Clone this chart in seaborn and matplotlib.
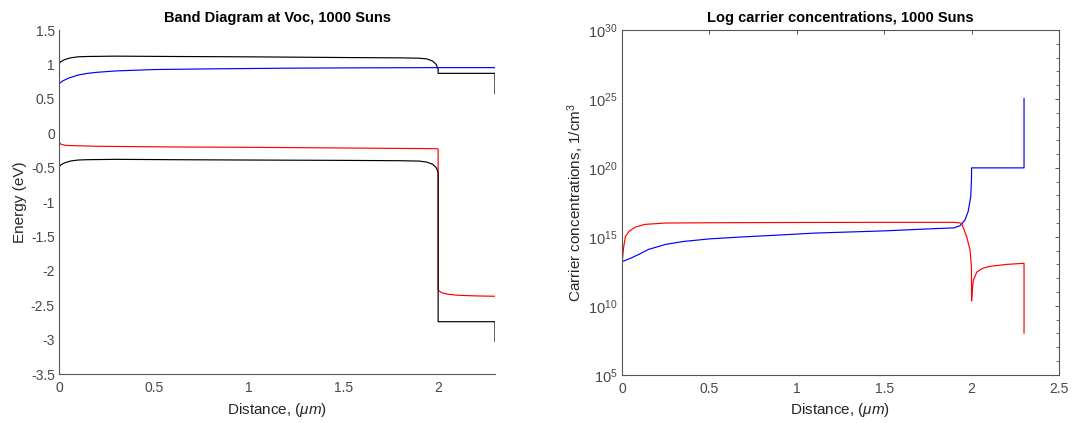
import numpy as np
import pandas as pd
import matplotlib
matplotlib.use("Agg")
import matplotlib.pyplot as plt
import matplotlib.ticker as mticker
import seaborn as sns

# ---------------- Data ----------------
# Left panel: band diagram (energies in eV vs distance in um)
ec_x = [0, 0.01, 0.03, 0.06, 0.1, 0.15, 0.3, 0.6, 1.0, 1.5, 1.8, 1.9, 1.94, 1.97, 1.99, 2.0, 2.0, 2.3, 2.3]
ec_y = [1.01, 1.04, 1.07, 1.095, 1.11, 1.115, 1.12, 1.115, 1.11, 1.10, 1.095, 1.09, 1.08, 1.05, 1.0, 0.93, 0.87, 0.87, 0.57]

fn_x = [0, 0.02, 0.05, 0.1, 0.15, 0.2, 0.3, 0.5, 0.8, 1.2, 1.6, 2.0, 2.3]
fn_y = [0.72, 0.76, 0.80, 0.845, 0.87, 0.885, 0.905, 0.925, 0.935, 0.945, 0.95, 0.953, 0.953]

fp_x = [0, 0.01, 0.03, 0.06, 0.2, 0.6, 1.0, 1.5, 1.99, 2.0, 2.0, 2.003, 2.02, 2.05, 2.1, 2.2, 2.3]
fp_y = [-0.13, -0.16, -0.175, -0.18, -0.19, -0.20, -0.205, -0.215, -0.225, -0.23, -2.26, -2.29, -2.32, -2.34, -2.355, -2.365, -2.37]

ev_x = [0, 0.01, 0.03, 0.06, 0.1, 0.15, 0.3, 0.6, 1.0, 1.5, 1.8, 1.9, 1.94, 1.97, 1.99, 2.0, 2.0, 2.3, 2.3]
ev_y = [-0.49, -0.46, -0.43, -0.405, -0.39, -0.385, -0.38, -0.385, -0.39, -0.395, -0.40, -0.405, -0.42, -0.45, -0.50, -0.57, -2.74, -2.74, -3.03]

# Right panel: carrier concentrations, log10 of 1/cm^3
n_x = [0, 0.05, 0.1, 0.15, 0.25, 0.35, 0.5, 0.7, 0.9, 1.1, 1.5, 1.8, 1.9, 1.934, 1.962, 1.98, 1.995, 1.999, 2.0, 2.3, 2.3]
n_log = [13.2, 13.45, 13.75, 14.08, 14.45, 14.66, 14.85, 15.0, 15.13, 15.27, 15.43, 15.6, 15.65, 15.81, 16.22, 16.82, 17.9, 19.1, 20.0, 20.0, 25.05]

p_x = [0, 0.005, 0.01, 0.019, 0.04, 0.076, 0.13, 0.25, 0.5, 1.0, 1.5, 1.82, 1.895, 1.924, 1.943, 1.972, 1.991, 1.999, 2.0,
       2.005, 2.01, 2.03, 2.06, 2.1, 2.2, 2.3, 2.3]
p_log = [12.9, 13.7, 14.3, 15.0, 15.4, 15.7, 15.9, 16.0, 16.02, 16.04, 16.05, 16.05, 16.05, 16.02, 15.98, 15.0, 14.05, 12.8, 10.35,
         11.3, 11.85, 12.45, 12.7, 12.85, 13.0, 13.08, 8.0]

left_yticks = [-3.5, -3, -2.5, -2, -1.5, -1, -0.5, 0, 0.5, 1, 1.5]
left_xticks = [0, 0.5, 1, 1.5, 2]
right_xticks = [0, 0.5, 1, 1.5, 2, 2.5]
right_ydecades = [5, 10, 15, 20, 25, 30]

# ---------------- Styling ----------------
sns.set_style("white")
plt.rcParams['font.family'] = ['Liberation Sans', 'DejaVu Sans']
plt.rcParams['axes.unicode_minus'] = False
plt.rcParams['mathtext.fontset'] = 'custom'
plt.rcParams['mathtext.rm'] = 'Liberation Sans'
plt.rcParams['mathtext.it'] = 'Liberation Sans:italic'

AX_COL = '#555555'
TXT_COL = '#484848'
LW = 0.85
TICK_FS = 10
LABEL_FS = 11
TITLE_FS = 10.5

fig = plt.figure(figsize=(10.72, 4.23), dpi=100)
axL = fig.add_axes([59 / 1072, 1 - 374 / 423, 436 / 1072, 344 / 423])
axR = fig.add_axes([622 / 1072, 1 - 374.7 / 423, 437 / 1072, 344.7 / 423])

# Left panel
for xs, ys, col in [(ec_x, ec_y, 'black'), (fn_x, fn_y, 'blue'), (fp_x, fp_y, 'red'), (ev_x, ev_y, 'black')]:
    sns.lineplot(x=xs, y=ys, ax=axL, color=col, lw=LW, sort=False, estimator=None)

axL.set_xlim(0, 2.3)
axL.set_ylim(-3.5, 1.5)
axL.set_xticks(left_xticks)
axL.set_yticks(left_yticks)
axL.xaxis.set_major_formatter(mticker.FuncFormatter(lambda v, p: '%g' % v))
axL.yaxis.set_major_formatter(mticker.FuncFormatter(lambda v, p: '%g' % v))
for s in ['top', 'right']:
    axL.spines[s].set_visible(False)
axL.set_title('Band Diagram at Voc, 1000 Suns', fontsize=TITLE_FS, fontweight='bold', color='black', pad=6)
axL.set_xlabel(r'Distance, ($\mu m$)', fontsize=LABEL_FS, color='#262626', labelpad=4)
axL.set_ylabel('Energy (eV)', fontsize=LABEL_FS, color='#262626', labelpad=3)

# Right panel
sns.lineplot(x=n_x, y=10.0 ** np.array(n_log), ax=axR, color='blue', lw=LW, sort=False, estimator=None)
sns.lineplot(x=p_x, y=10.0 ** np.array(p_log), ax=axR, color='red', lw=LW, sort=False, estimator=None)
axR.set_yscale('log')
axR.set_xlim(0, 2.5)
axR.set_ylim(1e5, 1e30)
axR.set_xticks(right_xticks)
axR.xaxis.set_major_formatter(mticker.FuncFormatter(lambda v, p: '%g' % v))
axR.yaxis.set_major_locator(mticker.FixedLocator([10.0 ** d for d in right_ydecades]))
axR.yaxis.set_major_formatter(mticker.FuncFormatter(lambda v, p: r'$10^{%d}$' % round(np.log10(v))))
axR.yaxis.set_minor_locator(mticker.LogLocator(base=10, subs=(1.0,), numticks=40))
axR.yaxis.set_minor_formatter(mticker.NullFormatter())
axR.set_title('Log carrier concentrations, 1000 Suns', fontsize=TITLE_FS, fontweight='bold', color='black', pad=6)
axR.set_xlabel(r'Distance, ($\mu m$)', fontsize=LABEL_FS, color='#262626', labelpad=4)
axR.set_ylabel(r'Carrier concentrations, 1/cm$^3$', fontsize=LABEL_FS, color='#262626', labelpad=2)

for ax in (axL, axR):
    for s in ax.spines.values():
        s.set_color(AX_COL)
        s.set_linewidth(0.8)
    ax.tick_params(axis='both', which='major', direction='in', length=3, width=0.7,
                   color=AX_COL, labelcolor=TXT_COL, labelsize=TICK_FS, pad=3)
    ax.tick_params(axis='x', which='major', pad=5)
    ax.tick_params(axis='both', which='minor', direction='in', length=2, width=0.6, color=AX_COL)
    ax.set_facecolor('white')

axR.tick_params(which='both', top=True, right=True)
axR.tick_params(axis='y', which='major', labelsize=10.5)

fig.savefig('out.png', dpi=100, facecolor='white')
